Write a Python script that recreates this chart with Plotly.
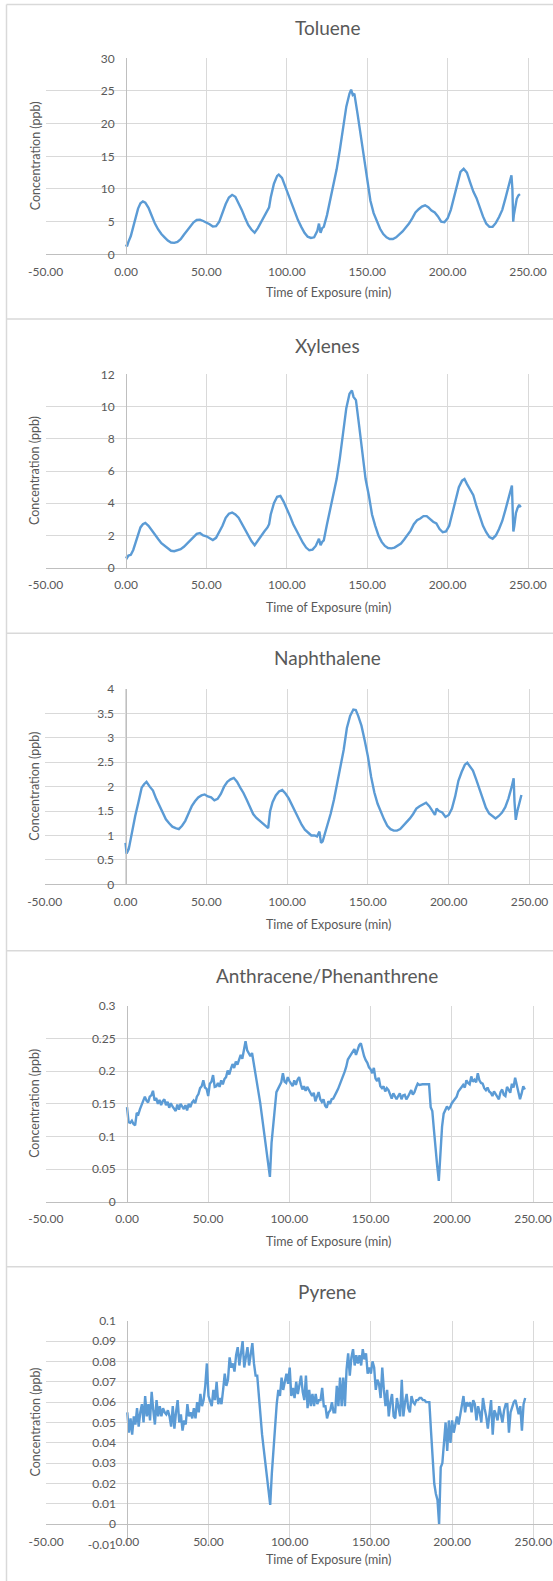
import plotly.graph_objects as go

# ---------------- data ----------------
x_labels = ["-50.00", "0.00", "50.00", "100.00", "150.00", "200.00", "250.00"]

toluene_labels = ["0", "5", "10", "15", "20", "25", "30"]
xylenes_labels = ["0", "2", "4", "6", "8", "10", "12"]
naph_labels = ["0", "0.5", "1", "1.5", "2", "2.5", "3", "3.5", "4"]
anth_labels = ["0", "0.05", "0.1", "0.15", "0.2", "0.25", "0.3"]
pyrene_labels = ["-0.01", "0", "0.01", "0.02", "0.03", "0.04", "0.05",
                 "0.06", "0.07", "0.08", "0.09", "0.1"]

toluene_t = [0, 0.6, 1.5, 3, 4.5, 6, 7.5, 9, 10.5, 12,
             14, 16, 18, 20, 22, 24, 26, 28, 30, 32, 34, 36, 38, 40, 42, 44,
             46, 48, 50, 52, 54, 56, 58, 60, 62, 64, 66, 68, 70, 72, 74, 76, 78, 80, 82, 84, 86, 88,
             89, 90, 92, 94, 95, 97, 99, 101, 103, 105, 107, 109, 111, 113, 115, 117, 119,
             120, 121, 122, 123,
             125, 127, 129, 131, 133, 135, 137, 139,
             140, 141, 142,
             144, 146, 148, 150, 152, 154, 156, 158, 160, 162, 164, 166, 168, 170, 172, 174,
             176, 178, 180, 182, 184, 186, 188, 190, 192, 194, 196, 198, 200, 202, 204, 206,
             208, 210, 212, 214, 216, 218, 220, 222, 224, 226, 228, 230, 232, 234, 236, 238,
             239.7, 240.3, 240.8, 241.2, 242, 243, 244, 245]
toluene_c = [1.5, 1.2, 1.9, 2.8, 4.2, 5.8, 7.0, 7.8, 8.1, 7.9,
             7.1, 5.9, 4.7, 3.8, 3.1, 2.6, 2.1, 1.8, 1.75, 1.9, 2.3, 3.0, 3.6, 4.3, 4.9, 5.25,
             5.3, 5.1, 4.9, 4.6, 4.25, 4.3, 5.0, 6.4, 7.7, 8.7, 9.1, 8.8, 7.9, 6.8, 5.6, 4.5, 3.8, 3.3, 4.0, 4.9, 5.7, 6.6,
             7.2, 8.7, 10.8, 12.0, 12.2, 11.7, 10.4, 9.2, 7.6, 6.3, 5.2, 4.2, 3.3, 2.7, 2.5, 2.6, 3.6,
             4.7, 3.3, 4.0, 4.2,
             6.0, 8.2, 10.5, 13.0, 16.0, 19.5, 22.6, 24.6,
             25.2, 24.4, 24.6,
             21.5, 18.0, 14.5, 11.2, 8.2, 6.3, 5.0, 3.9, 3.1, 2.6, 2.35, 2.35, 2.6, 3.0, 3.5, 4.1,
             4.7, 5.5, 6.4, 6.9, 7.3, 7.5, 7.2, 6.7, 6.4, 5.8, 5.0, 4.9, 5.5, 6.8, 8.8, 11.0,
             12.6, 13.1, 12.5, 11.0, 9.6, 8.6, 7.1, 5.8, 4.7, 4.2, 4.2, 4.8, 5.7, 6.8, 8.6, 10.4,
             12.1, 10.0, 5.0, 6.0, 7.0, 8.5, 9.0, 9.2]

xylenes_t = [0, 0.6, 1.5, 3, 4.5, 6, 7.5, 9, 10.5, 12,
             14, 16, 18, 20, 22, 24, 26, 28, 30, 32,
             34, 36, 38, 40, 42, 44, 46, 48, 50, 52,
             54, 56, 58, 60, 62, 64, 66, 68, 70, 72,
             74, 76, 78, 80, 82, 84, 86, 88, 89, 90,
             92, 94, 96, 98, 100, 102, 104, 106, 108, 110,
             112, 114, 116, 118, 120, 121, 122, 123, 125, 127,
             129, 131, 133, 135, 137, 139, 140.5, 141.5, 143, 145,
             147, 149, 151, 153, 155, 157, 159, 161, 163, 165,
             167, 169, 171, 173, 175, 177, 179, 181, 183, 185,
             187, 189, 191, 193, 195, 197, 199, 201, 203, 205,
             207, 209, 210.5, 212, 214, 216, 218, 220, 222, 224,
             226, 228, 230, 232, 234, 236, 238, 240, 240.5, 240.9,
             241.5, 242.5, 243.5, 244.5, 245.5]
xylenes_c = [0.7, 0.6, 0.75, 0.8, 1.1, 1.6, 2.1, 2.5, 2.7, 2.78,
             2.6, 2.35, 2.05, 1.78, 1.52, 1.35, 1.2, 1.05, 1.02, 1.08,
             1.15, 1.3, 1.5, 1.7, 1.9, 2.1, 2.15, 2.0, 1.95, 1.85,
             1.72, 1.85, 2.2, 2.6, 3.1, 3.35, 3.42, 3.3, 3.1, 2.75,
             2.4, 2.0, 1.65, 1.4, 1.7, 1.95, 2.25, 2.5, 2.7, 3.3,
             4.0, 4.4, 4.45, 4.1, 3.7, 3.2, 2.7, 2.3, 1.9, 1.55,
             1.25, 1.08, 1.12, 1.35, 1.8, 1.4, 1.6, 1.7, 2.7, 3.7,
             4.6, 5.5, 6.8, 8.5, 9.9, 10.8, 11.0, 10.6, 10.4, 8.8,
             7.0, 5.5, 4.5, 3.3, 2.6, 2.0, 1.6, 1.35, 1.22, 1.2,
             1.25, 1.35, 1.5, 1.75, 2.0, 2.3, 2.7, 2.95, 3.05, 3.2,
             3.2, 3.0, 2.85, 2.75, 2.4, 2.2, 2.25, 2.6, 3.4, 4.3,
             5.0, 5.4, 5.5, 5.2, 4.8, 4.5, 3.8, 3.2, 2.6, 2.2,
             1.9, 1.8, 2.0, 2.4, 2.9, 3.6, 4.3, 5.1, 3.5, 2.25,
             2.6, 3.4, 3.7, 3.9, 3.75]

naph_t = [0, 0.7, 2, 3, 4.5, 6, 8, 10, 11.5, 13,
          15, 17, 19, 21, 23, 25, 27, 29, 31, 33,
          35, 37, 39, 41, 43, 45, 47, 49, 51, 53,
          55, 57, 59, 61, 63, 65, 67, 69, 71, 73,
          75, 77, 79, 81, 83, 85, 87, 88.3, 89.5, 91,
          93, 95, 97, 99, 101, 103, 105, 107, 109, 111,
          113, 115, 117, 118.5, 120, 121, 122, 123.5, 125, 127,
          129, 131, 133, 135, 137, 139, 141, 142.5, 144, 146,
          148, 150, 152, 154, 156, 158, 160, 162, 164, 166,
          168, 170, 172, 174, 176, 178, 180, 182, 184, 186,
          188, 190, 191.5, 192.5, 194, 196, 198, 200, 202, 204,
          206, 208, 210, 211.5, 213, 215, 217, 219, 221, 223,
          225, 227, 229, 231, 233, 235, 237, 239, 240.2, 240.7,
          241.5, 242.5, 243.5, 245]
naph_c = [0.85, 0.63, 0.72, 0.9, 1.15, 1.4, 1.68, 1.98, 2.05, 2.1,
          2.0, 1.92, 1.75, 1.6, 1.45, 1.33, 1.25, 1.18, 1.15, 1.13,
          1.2, 1.3, 1.45, 1.6, 1.7, 1.78, 1.82, 1.84, 1.8, 1.78,
          1.72, 1.75, 1.85, 2.0, 2.1, 2.15, 2.18, 2.1, 1.98, 1.87,
          1.73, 1.58, 1.44, 1.36, 1.3, 1.23, 1.18, 1.15, 1.5, 1.68,
          1.82, 1.9, 1.93, 1.86, 1.76, 1.62, 1.48, 1.35, 1.22, 1.12,
          1.05, 1.0, 1.0, 0.98, 1.08, 0.85, 0.88, 1.05, 1.2, 1.45,
          1.73, 2.05, 2.4, 2.75, 3.2, 3.45, 3.58, 3.57, 3.45, 3.25,
          2.95, 2.62, 2.2, 1.88, 1.65, 1.48, 1.33, 1.2, 1.13, 1.1,
          1.1, 1.13, 1.2, 1.27, 1.35, 1.44, 1.55, 1.6, 1.63, 1.67,
          1.6, 1.5, 1.42, 1.55, 1.5, 1.47, 1.38, 1.42, 1.55, 1.8,
          2.12, 2.3, 2.45, 2.49, 2.43, 2.33, 2.15, 1.95, 1.75, 1.57,
          1.45, 1.4, 1.35, 1.4, 1.47, 1.58, 1.76, 2.0, 2.17, 1.7,
          1.32, 1.5, 1.65, 1.83]

# one reading per minute, starting at minute 0
anth_c = [0.145, 0.122, 0.121, 0.124, 0.119, 0.117, 0.136, 0.134, 0.142, 0.149,
          0.156, 0.161, 0.155, 0.152, 0.161, 0.163, 0.170, 0.155, 0.159, 0.150,
          0.156, 0.148, 0.154, 0.157, 0.148, 0.153, 0.144, 0.151, 0.146, 0.143,
          0.139, 0.149, 0.141, 0.150, 0.145, 0.142, 0.148, 0.140, 0.150, 0.145,
          0.152, 0.155, 0.151, 0.161, 0.165, 0.174, 0.177, 0.186, 0.175, 0.173,
          0.162, 0.181, 0.184, 0.194, 0.176, 0.177, 0.182, 0.176, 0.186, 0.180,
          0.188, 0.191, 0.201, 0.195, 0.204, 0.211, 0.205, 0.215, 0.210, 0.219,
          0.225, 0.219, 0.230, 0.246, 0.232, 0.226, 0.223, 0.228, 0.213, 0.203,
          0.188, 0.171, 0.152, 0.133, 0.113, 0.093, 0.074, 0.056, 0.038, 0.090,
          0.118, 0.150, 0.168, 0.173, 0.178, 0.183, 0.197, 0.184, 0.182, 0.191,
          0.185, 0.180, 0.177, 0.186, 0.179, 0.187, 0.191, 0.180, 0.172, 0.177,
          0.170, 0.176, 0.172, 0.166, 0.162, 0.167, 0.154, 0.161, 0.168, 0.157,
          0.153, 0.157, 0.147, 0.144, 0.154, 0.150, 0.157, 0.158, 0.162, 0.168,
          0.173, 0.179, 0.184, 0.190, 0.199, 0.207, 0.218, 0.222, 0.226, 0.231,
          0.234, 0.225, 0.233, 0.240, 0.243, 0.231, 0.223, 0.217, 0.213, 0.206,
          0.203, 0.197, 0.205, 0.189, 0.185, 0.190, 0.177, 0.174, 0.177, 0.169,
          0.174, 0.171, 0.163, 0.158, 0.166, 0.162, 0.157, 0.162, 0.166, 0.157,
          0.163, 0.164, 0.157, 0.161, 0.167, 0.171, 0.164, 0.168, 0.175, 0.181,
          0.179, 0.180, 0.180, 0.180, 0.180, 0.180, 0.180, 0.145, 0.139, 0.110,
          0.078, 0.055, 0.032, 0.085, 0.115, 0.135, 0.141, 0.146, 0.142, 0.145,
          0.151, 0.155, 0.158, 0.161, 0.169, 0.172, 0.176, 0.179, 0.175, 0.186,
          0.182, 0.180, 0.192, 0.184, 0.187, 0.183, 0.197, 0.186, 0.182, 0.181,
          0.174, 0.171, 0.175, 0.169, 0.167, 0.162, 0.169, 0.165, 0.160, 0.157,
          0.168, 0.172, 0.164, 0.162, 0.176, 0.170, 0.167, 0.181, 0.175, 0.190,
          0.178, 0.167, 0.157, 0.166, 0.177, 0.172]

pyrene_c = [0.055, 0.045, 0.052, 0.044, 0.053, 0.049, 0.057, 0.048, 0.055, 0.059,
            0.050, 0.063, 0.053, 0.059, 0.051, 0.065, 0.056, 0.049, 0.061, 0.053,
            0.058, 0.053, 0.057, 0.055, 0.054, 0.056, 0.053, 0.048, 0.058, 0.047,
            0.055, 0.061, 0.050, 0.054, 0.046, 0.051, 0.049, 0.059, 0.053, 0.055,
            0.052, 0.057, 0.052, 0.060, 0.055, 0.064, 0.058, 0.061, 0.068, 0.079,
            0.063, 0.061, 0.058, 0.066, 0.061, 0.070, 0.059, 0.062, 0.059, 0.066,
            0.074, 0.068, 0.071, 0.082, 0.077, 0.079, 0.075, 0.083, 0.087, 0.078,
            0.085, 0.090, 0.077, 0.083, 0.087, 0.078, 0.084, 0.089, 0.079, 0.073,
            0.073, 0.062, 0.051, 0.044, 0.037, 0.030, 0.023, 0.016, 0.0095, 0.025,
            0.036, 0.050, 0.059, 0.066, 0.063, 0.072, 0.066, 0.070, 0.074, 0.069,
            0.077, 0.063, 0.067, 0.062, 0.070, 0.064, 0.068, 0.073, 0.065, 0.061,
            0.073, 0.057, 0.066, 0.058, 0.064, 0.058, 0.064, 0.059, 0.061, 0.061,
            0.067, 0.058, 0.058, 0.052, 0.055, 0.056, 0.060, 0.055, 0.055, 0.068,
            0.058, 0.072, 0.058, 0.072, 0.058, 0.076, 0.084, 0.073, 0.082, 0.086,
            0.078, 0.083, 0.079, 0.083, 0.078, 0.086, 0.081, 0.084, 0.074, 0.077,
            0.074, 0.080, 0.077, 0.066, 0.071, 0.069, 0.062, 0.077, 0.066, 0.058,
            0.066, 0.053, 0.060, 0.064, 0.053, 0.052, 0.062, 0.057, 0.053, 0.071,
            0.053, 0.060, 0.064, 0.057, 0.055, 0.063, 0.060, 0.059, 0.061, 0.061,
            0.062, 0.062, 0.061, 0.061, 0.060, 0.060, 0.060, 0.046, 0.031, 0.020,
            0.015, 0.012, 0.000, 0.028, 0.030, 0.043, 0.050, 0.036, 0.051, 0.040,
            0.051, 0.045, 0.050, 0.053, 0.049, 0.054, 0.058, 0.063, 0.055, 0.060,
            0.058, 0.060, 0.055, 0.061, 0.059, 0.051, 0.058, 0.055, 0.050, 0.062,
            0.057, 0.053, 0.047, 0.055, 0.061, 0.044, 0.056, 0.054, 0.051, 0.058,
            0.053, 0.050, 0.056, 0.059, 0.059, 0.045, 0.055, 0.058, 0.060, 0.061,
            0.058, 0.054, 0.058, 0.046, 0.059, 0.062]

anth_t = list(range(len(anth_c)))
pyrene_t = list(range(len(pyrene_c)))

# ---------------- layout ----------------
W, H = 553, 1581
FONT = "Lato"
GREY_TEXT = "#595959"
GRID = "#d9d9d9"
AXIS = "#bfbfbf"
LINE = "#5b9bd5"


def py(px):
    return 1 - px / H


# pixel geometry of each chart block (title, plot top, zero line, plot bottom,
# x position of the value 0, pixels per minute, x-title centre)
panels = [
    dict(name="Toluene", t=toluene_t, c=toluene_c, yl=toluene_labels,
         ttl=28.0, top=58.3, zero=254.3, bot=254.3, x0=126.0, ppm=1.608, xt=293.0),
    dict(name="Xylenes", t=xylenes_t, c=xylenes_c, yl=xylenes_labels,
         ttl=345.0, top=374.3, zero=567.7, bot=567.7, x0=126.0, ppm=1.608, xt=607.0),
    dict(name="Naphthalene", t=naph_t, c=naph_c, yl=naph_labels,
         ttl=657.0, top=689.0, zero=884.3, bot=884.3, x0=125.5, ppm=1.616, xt=924.0),
    dict(name="Anthracene/Phenanthrene", t=anth_t, c=anth_c, yl=anth_labels,
         ttl=975.7, top=1006.0, zero=1201.7, bot=1201.7, x0=127.0, ppm=1.624, xt=1241.0),
    dict(name="Pyrene", t=pyrene_t, c=pyrene_c, yl=pyrene_labels,
         ttl=1291.7, top=1320.7, zero=1524.3, bot=1544.6, x0=127.3, ppm=1.624, xt=1559.3),
]
separators = [4.5, 319.0, 633.3, 950.7, 1266.7]

fig = go.Figure()
annotations = []
layout_axes = {}
x_vals = [float(s) for s in x_labels]

for i, p in enumerate(panels, start=1):
    xn = "x" if i == 1 else f"x{i}"
    yn = "y" if i == 1 else f"y{i}"
    fig.add_trace(go.Scatter(x=p["t"], y=p["c"], mode="lines", xaxis=xn, yaxis=yn,
                             line=dict(color=LINE, width=2.4), showlegend=False,
                             hoverinfo="skip"))
    yv = [float(s) for s in p["yl"]]
    left_px = p["x0"] - 50 * p["ppm"]
    layout_axes["xaxis" if i == 1 else f"xaxis{i}"] = dict(
        domain=[left_px / W, 1], range=[-50, (W - p["x0"]) / p["ppm"]],
        anchor="free", position=py(p["zero"]), automargin=False,
        tickmode="array", tickvals=x_vals, ticktext=x_labels,
        showgrid=True, gridcolor=GRID, gridwidth=1, zeroline=False,
        showline=True, linecolor=AXIS, linewidth=1, ticks="",
        ticklabelstandoff=6, ticklabeloverflow="allow",
        tickfont=dict(family=FONT, size=12, color=GREY_TEXT),
    )
    layout_axes["yaxis" if i == 1 else f"yaxis{i}"] = dict(
        domain=[py(p["bot"]), py(p["top"])], range=[min(yv), max(yv)],
        anchor="free", position=p["x0"] / W, automargin=False,
        tickmode="array", tickvals=yv, ticktext=p["yl"],
        showgrid=True, gridcolor=GRID, gridwidth=1, zeroline=False,
        showline=True, linecolor=AXIS, linewidth=1, ticks="",
        ticklabelstandoff=9, ticklabeloverflow="allow",
        tickfont=dict(family=FONT, size=12, color=GREY_TEXT),
    )
    annotations.append(dict(text=p["name"], xref="paper", yref="paper",
                            x=327 / W, y=py(p["ttl"]), showarrow=False,
                            xanchor="center", yanchor="middle",
                            font=dict(family=FONT, size=19, color=GREY_TEXT)))
    annotations.append(dict(text="Time of Exposure (min)", xref="paper", yref="paper",
                            x=328 / W, y=py(p["xt"]), showarrow=False,
                            xanchor="center", yanchor="middle",
                            font=dict(family=FONT, size=12.5, color=GREY_TEXT)))
    annotations.append(dict(text="Concentration (ppb)", xref="paper", yref="paper",
                            x=35 / W, y=py((p["top"] + p["zero"]) / 2), showarrow=False,
                            textangle=-90, xanchor="center", yanchor="middle",
                            font=dict(family=FONT, size=12.5, color=GREY_TEXT)))

shapes = [dict(type="line", xref="paper", yref="paper", x0=6.5 / W, x1=1,
               y0=py(s), y1=py(s), line=dict(color=GRID, width=1.5)) for s in separators]
shapes.append(dict(type="line", xref="paper", yref="paper", x0=6.5 / W, x1=6.5 / W,
                   y0=py(separators[0]), y1=0, line=dict(color=GRID, width=1.5)))

fig.update_layout(
    width=W, height=H, margin=dict(l=0, r=0, t=0, b=0),
    paper_bgcolor="white", plot_bgcolor="white",
    font=dict(family=FONT, color=GREY_TEXT),
    annotations=annotations, shapes=shapes, **layout_axes,
)

fig.write_html("out.html")
